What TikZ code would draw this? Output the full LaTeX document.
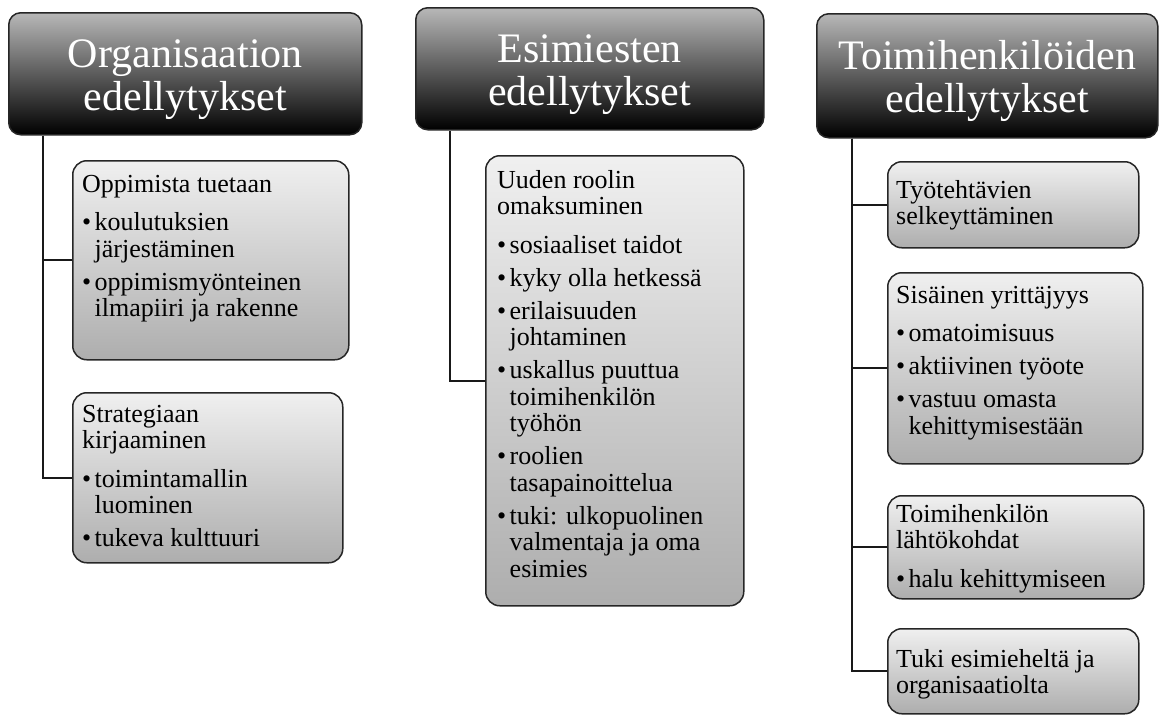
\documentclass[tikz,border=0pt]{standalone}
\usepackage{fontspec}
\setmainfont{Liberation Serif}
\usepackage{tikz}

\newcommand{\boxtxt}[2]{\parbox[t]{#1}{\raggedright\rule{0pt}{18pt}#2}}
\newcommand{\bpt}{\par\vspace{6.5pt}\hangindent=12.5pt\hangafter=1\noindent\makebox[12.5pt][l]{\textbullet}}
\newcommand{\hdrtop}{\rule{0pt}{40pt}}

\tikzset{
  hdr/.style={draw=black!85,line width=1.5pt,rounded corners=12pt,
    top color=black!28,bottom color=black,text=white,align=center,
    font=\fontsize{42}{43}\selectfont,anchor=north west,inner sep=0pt},
  sub/.style={draw=black!85,line width=1.5pt,rounded corners=14pt,
    top color=black!6,bottom color=black!32,anchor=north west,inner sep=0pt},
  txt/.style={anchor=north west,inner sep=0pt,font=\fontsize{26}{26.5}\selectfont},
  conn/.style={line width=2pt,black!90}
}

\begin{document}
\begin{tikzpicture}[x=1pt,y=-1pt]
	\useasboundingbox (0,0) rectangle (1159,715);
	% headers
	\node[hdr,minimum width=353pt,minimum height=122pt] (H1) at (8,12) {\hdrtop Organisaation\\edellytykset};
	\node[hdr,minimum width=348pt,minimum height=122pt] (H2) at (415,7) {\hdrtop Esimiesten\\edellytykset};
	\node[hdr,minimum width=341pt,minimum height=124pt] (H3) at (816,13) {\hdrtop Toimihenkilöiden\\edellytykset};
	% boxes
	\node[sub,minimum width=276pt,minimum height=199pt] (C1a) at (72,160) {};
	\node[sub,minimum width=270pt,minimum height=170pt] (C1b) at (72,392) {};
	\node[sub,minimum width=258pt,minimum height=450pt] (C2) at (485,155) {};
	\node[sub,minimum width=251pt,minimum height=86pt] (C3a) at (887,161) {};
	\node[sub,minimum width=255pt,minimum height=191pt] (C3b) at (887,272) {};
	\node[sub,minimum width=256pt,minimum height=103pt] (C3c) at (887,495) {};
	\node[sub,minimum width=251pt,minimum height=85pt] (C3d) at (887,628) {};
	% texts
	\node[txt] (T1a) at ([xshift=10pt,yshift=-14pt]C1a.north west) {\boxtxt{262pt}{Oppimista tuetaan\par\vspace{5.5pt}
		\bpt koulutuksien\newline järjestäminen
		\bpt oppimismyönteinen\newline ilmapiiri ja rakenne}};
	\node[txt] (T1b) at ([xshift=10pt,yshift=-12pt]C1b.north west) {\boxtxt{256pt}{Strategiaan\newline kirjaaminen\par\vspace{5.5pt}
		\bpt toimintamallin\newline luominen
		\bpt tukeva kulttuuri}};
	\node[txt] (T2) at ([xshift=12pt,yshift=-15pt]C2.north west) {\boxtxt{244pt}{Uuden roolin\newline omaksuminen\par\vspace{5.5pt}
		\bpt sosiaaliset taidot
		\bpt kyky olla hetkessä
		\bpt erilaisuuden\newline johtaminen
		\bpt uskallus puuttua\newline toimihenkilön\newline työhön
		\bpt roolien\newline tasapainoittelua
		\bpt tuki: ulkopuolinen\newline valmentaja ja oma\newline esimies}};
	\node[txt] (T3a) at ([xshift=9pt,yshift=-19pt]C3a.north west) {\boxtxt{240pt}{Työtehtävien\newline selkeyttäminen}};
	\node[txt] (T3b) at ([xshift=9pt,yshift=-13pt]C3b.north west) {\boxtxt{240pt}{Sisäinen yrittäjyys\par\vspace{5.5pt}
		\bpt omatoimisuus
		\bpt aktiivinen työote
		\bpt vastuu omasta\newline kehittymisestään}};
	\node[txt] (T3c) at ([xshift=9pt,yshift=-9pt]C3c.north west) {\boxtxt{242pt}{Toimihenkilön\newline lähtökohdat\par\vspace{5.5pt}
		\bpt halu kehittymiseen}};
	\node[txt] (T3d) at ([xshift=9pt,yshift=-21pt]C3d.north west) {\boxtxt{240pt}{Tuki esimieheltä ja\newline organisaatiolta}};
	% connectors
	\draw[conn] ([xshift=35pt]H1.south west) |- (C1a.west);
	\draw[conn] ([xshift=35pt]H1.south west) |- (C1b.west);
	\draw[conn] ([xshift=35pt]H2.south west) |- (C2.west);
	\draw[conn] ([xshift=36pt]H3.south west) |- (C3a.west);
	\draw[conn] ([xshift=36pt]H3.south west) |- (C3b.west);
	\draw[conn] ([xshift=36pt]H3.south west) |- (C3c.west);
	\draw[conn] ([xshift=36pt]H3.south west) |- (C3d.west);
\end{tikzpicture}
\end{document}
